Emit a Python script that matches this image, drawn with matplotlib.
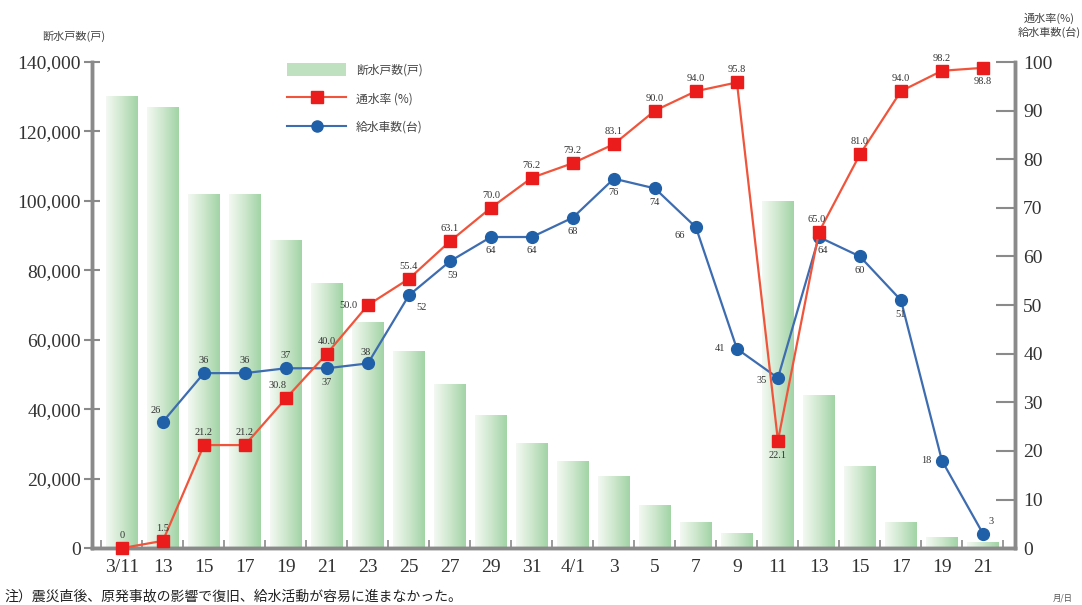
import matplotlib
matplotlib.use("Agg")
import matplotlib.pyplot as plt
from matplotlib.colors import LinearSegmentedColormap
from matplotlib.patches import Patch
from matplotlib.lines import Line2D
import numpy as np

plt.rcParams['font.family'] = ['Liberation Serif', 'Noto Sans CJK JP', 'DejaVu Sans']

# データ
dates = ['3/11', '13', '15', '17', '19', '21', '23', '25', '27', '29', '31',
         '4/1', '3', '5', '7', '9', '11', '13', '15', '17', '19', '21']
cut_off = [130000, 127000, 101700, 101700, 88700, 76300, 65000, 56500, 47000,
           38300, 30000, 24800, 20700, 12100, 7200, 4300, 99700, 43800, 23600,
           7200, 2900, 1500]
restore_rate = [0, 1.5, 21.2, 21.2, 30.8, 40.0, 50.0, 55.4, 63.1, 70.0, 76.2,
                79.2, 83.1, 90.0, 94.0, 95.8, 22.1, 65.0, 81.0, 94.0, 98.2, 98.8]
trucks = [None, 26, 36, 36, 37, 37, 38, 52, 59, 64, 64, 68, 76, 74, 66, 41,
          35, 64, 60, 51, 18, 3]

# ラベルの位置 (dx, dy in points)
red_off = [(0, 9), (0, 9), (0, 9), (0, 9), (-6, 9), (0, 9), (-14, 0), (0, 9),
           (0, 9), (0, 9), (0, 9), (0, 9), (0, 9), (0, 9), (0, 9), (0, 9),
           (0, -11), (-2, 9), (0, 9), (0, 9), (0, 9), (0, -10)]
blue_off = [None, (-5, 8), (0, 9), (0, 9), (0, 9), (0, -10), (-2, 8), (9, -9),
            (2, -10), (0, -10), (0, -10), (0, -10), (0, -10), (0, -10),
            (-12, -6), (-12, 0), (-12, -2), (3, -10), (0, -10), (0, -10),
            (-11, 0), (6, 9)]

x = np.arange(len(dates))

fig = plt.figure(figsize=(10.82, 6.05), dpi=100)
ax = fig.add_axes([0.085, 0.094, 0.853, 0.8035])
ax2 = ax.twinx()

# 棒グラフ（グラデーション）
cmap = LinearSegmentedColormap.from_list('g', ['#f3f9f2', '#cde7cd', '#a2d4a6'])
grad = np.linspace(0, 1, 64).reshape(1, -1)
w = 0.78
for xi, h in zip(x, cut_off):
    ax.imshow(grad, cmap=cmap, extent=[xi - w / 2, xi + w / 2, 0, h],
              aspect='auto', zorder=1, interpolation='bilinear')

ax.set_xlim(-0.73, 21.78)
ax.set_ylim(0, 140000)
ax.set_yticks(np.arange(0, 140001, 20000))
ax.set_yticklabels([f'{v:,}' for v in range(0, 140001, 20000)], fontsize=14)
ax.set_xticks(x)
ax.set_xticklabels(dates, fontsize=14)
ax.tick_params(axis='x', length=0, pad=8, colors='#333333')
ax.set_xticks(np.arange(-0.5, 21.6, 1), minor=True)
ax.tick_params(axis='x', which='minor', direction='in', length=6, width=1.2,
               color='#8a8a8a')
ax.tick_params(axis='y', direction='inout', length=12, width=1.5, color='#8a8a8a',
               labelcolor='#333333', pad=2)

for a in (ax, ax2):
    a.spines['top'].set_visible(False)
    for sp in ['left', 'right', 'bottom']:
        a.spines[sp].set_color('#8a8a8a')
        a.spines[sp].set_linewidth(2.5)

# 折れ線
ax2.set_ylim(0, 100)
ax2.set_yticks(np.arange(0, 101, 10))
ax2.tick_params(axis='y', direction='in', length=14, width=1.5, color='#8a8a8a',
                labelsize=14, labelcolor='#333333', pad=6)

tx = [xi for xi, t in zip(x, trucks) if t is not None]
ty = [t for t in trucks if t is not None]
ax2.plot(tx, ty, color='#3d6cb0', lw=1.6, marker='o', ms=8.5,
         mfc='#2060a8', mec='#2060a8', zorder=3, clip_on=False)
ax2.plot(x, restore_rate, color='#f0553c', lw=1.6, marker='s', ms=8.5,
         mfc='#ea1c1c', mec='#ea1c1c', zorder=4, clip_on=False)

for xi, v, off in zip(x, restore_rate, red_off):
    ax2.annotate(f'{v:.1f}' if v else '0', (xi, v), xytext=off,
                 textcoords='offset points', ha='center', va='center',
                 fontsize=7.5, color='#333333', zorder=5)
for xi, v, off in zip(x, trucks, blue_off):
    if v is None:
        continue
    ax2.annotate(str(v), (xi, v), xytext=off, textcoords='offset points',
                 ha='center', va='center', fontsize=7.5, color='#333333',
                 zorder=5)

# 凡例
handles = [Patch(facecolor='#bfe1c0', edgecolor='none'),
           Line2D([], [], color='#f0553c', marker='s', ms=8, mfc='#ea1c1c',
                  mec='#ea1c1c'),
           Line2D([], [], color='#3d6cb0', marker='o', ms=8, mfc='#2060a8',
                  mec='#2060a8')]
leg = ax2.legend(handles, ['断水戸数(戸)', '通水率 (%)', '給水車数(台)'],
                 loc='upper left', bbox_to_anchor=(0.2, 1.02), frameon=False,
                 handlelength=5, handleheight=1.3, labelspacing=1.3,
                 prop={'family': ['Noto Sans CJK JP'], 'size': 8.5})
for t in leg.get_texts():
    t.set_color('#444444')

# 軸ラベル・注記
fig.text(0.068, 0.94, '断水戸数(戸)', ha='center', va='center', fontsize=8,
         family=['Noto Sans CJK JP'], color='#444444')
fig.text(0.97, 0.958, '通水率(%)\n給水車数(台)', ha='center', va='center',
         fontsize=8, family=['Noto Sans CJK JP'], color='#444444',
         linespacing=1.3)
fig.text(0.982, 0.012, '月/日', ha='center', va='center', fontsize=6,
         family=['Noto Sans CJK JP'], color='#555555')
fig.text(0.004, 0.003, '注）震災直後、原発事故の影響で復旧、給水活動が容易に進まなかった。',
         ha='left', va='bottom', fontsize=10, family=['Noto Sans CJK JP'],
         color='#222222')

fig.savefig('out.png', dpi=100)
